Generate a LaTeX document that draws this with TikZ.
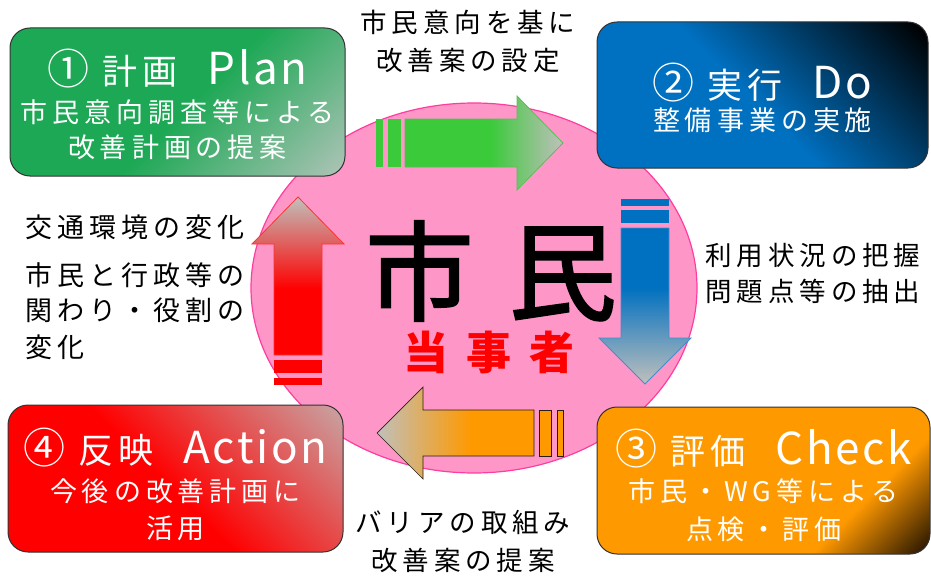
\documentclass[tikz,border=0pt]{standalone}
\usepackage{fontspec}
\setmainfont{Noto Sans CJK JP}
\newfontfamily\jpT[LetterSpace=15]{Noto Sans CJK JP}
\newfontfamily\jpS[LetterSpace=18.5]{Noto Sans CJK JP}
\newfontfamily\jpL[LetterSpace=6]{Noto Sans CJK JP}
\newfontfamily\jpM[FakeBold=2]{Noto Sans CJK JP}
\usetikzlibrary{shapes.geometric}

\definecolor{gA}{RGB}{28,168,84}
\definecolor{gB}{RGB}{178,196,186}
\definecolor{bA}{RGB}{0,112,192}
\definecolor{bB}{RGB}{0,0,0}
\definecolor{oA}{RGB}{255,153,0}
\definecolor{oB}{RGB}{20,10,0}
\definecolor{rA}{RGB}{255,0,0}
\definecolor{rB}{RGB}{196,176,176}
\definecolor{tipgrey}{RGB}{192,192,188}
\definecolor{arG}{RGB}{58,202,58}
\definecolor{arB}{RGB}{0,112,192}
\definecolor{arR}{RGB}{255,0,0}
\definecolor{arO}{RGB}{255,153,0}
\definecolor{pinkfill}{RGB}{255,150,200}
\definecolor{pinkline}{RGB}{255,60,160}
\definecolor{boxline}{RGB}{50,50,50}

\pgfdeclarehorizontalshading{greenbox}{100bp}{color(0bp)=(gA); color(52bp)=(gA); color(86bp)=(gB); color(100bp)=(gB)}
\pgfdeclarehorizontalshading{bluebox}{100bp}{color(0bp)=(bA); color(48bp)=(bA); color(84bp)=(bB); color(100bp)=(bB)}
\pgfdeclarehorizontalshading{orangebox}{100bp}{color(0bp)=(oA); color(68bp)=(oA); color(86bp)=(oB); color(100bp)=(oB)}
\pgfdeclarehorizontalshading{redbox}{100bp}{color(0bp)=(rA); color(48bp)=(rA); color(88bp)=(rB); color(100bp)=(rB)}

\pgfdeclarehorizontalshading{garrow}{100bp}{color(0bp)=(arG); color(52bp)=(arG); color(75bp)=(tipgrey); color(100bp)=(tipgrey)}
\pgfdeclarehorizontalshading{oarrow}{100bp}{color(0bp)=(tipgrey); color(25bp)=(tipgrey); color(55bp)=(arO); color(100bp)=(arO)}
\pgfdeclareverticalshading{barrow}{100bp}{color(0bp)=(tipgrey); color(25bp)=(tipgrey); color(56bp)=(arB); color(100bp)=(arB)}
\pgfdeclareverticalshading{rarrow}{100bp}{color(0bp)=(arR); color(46bp)=(arR); color(75bp)=(tipgrey); color(100bp)=(tipgrey)}

\newcommand\mkttl[3]{{\fontsize{42}{44}\selectfont #1}\hspace{13pt}#2\hspace{30pt}{\jpL\fontsize{44}{44}\selectfont #3}}

\tikzset{
  box/.style={shade, rounded corners=20pt, draw=boxline, line width=1pt, inner sep=0pt},
  ttl/.style={inner sep=0pt, text=white, font=\jpT\fontsize{35}{40}\selectfont},
  sub/.style={inner sep=0pt, text=white, font=\jpS\fontsize{27}{30}\selectfont},
  lab/.style={inner sep=0pt, text=black, font=\jpS\fontsize{26.5}{30}\selectfont},
  llab/.style={inner sep=0pt, text=black, anchor=west, font=\jpS\fontsize{27}{30}\selectfont},
}

\begin{document}
\begin{tikzpicture}[x=1pt,y=-1pt]
\useasboundingbox (0,0) rectangle (931,578);
\fill[white] (0,0) rectangle (931,578);

% central circle
\path[fill=pinkfill, draw=pinkline, line width=1.2pt] (474,288) ellipse [x radius=223pt, y radius=185pt];

% boxes
\node[box, shading=greenbox, shading angle=-45, minimum width=335pt, minimum height=148pt] (plan) at (177.5,102) {};
\node[box, shading=bluebox, shading angle=45, minimum width=331pt, minimum height=146pt] (do) at (762.5,95) {};
\node[box, shading=orangebox, shading angle=-45, minimum width=333pt, minimum height=147pt] (check) at (763.5,480.5) {};
\node[box, shading=redbox, shading angle=45, minimum width=335pt, minimum height=147pt] (action) at (175.5,478.5) {};

% green arrow (right)
\shade[shading=garrow, draw={rgb,255:red,90;green,190;blue,90}, line width=0.8pt]
  (405,119) -- (517,119) -- (517,96) -- (563,143) -- (517,190) -- (517,167) -- (405,167) -- cycle;
\fill[arG] (376,119) rectangle (383,167);
\fill[arG] (388,119) rectangle (401,167);

% blue arrow (down)
\shade[shading=barrow, draw={rgb,255:red,70;green,140;blue,205}, line width=0.8pt]
  (621,228) -- (621,338) -- (599,338) -- (645,384) -- (691,338) -- (669,338) -- (669,228) -- cycle;
\fill[arB] (621,199) rectangle (669,206);
\fill[arB] (621,210) rectangle (669,223);

% orange arrow (left)
\shade[shading=oarrow, draw={rgb,255:red,40;green,30;blue,20}, line width=0.7pt]
  (534,410) -- (423,410) -- (423,387) -- (377,433) -- (423,479) -- (423,456) -- (534,456) -- cycle;
\filldraw[fill=arO, draw={rgb,255:red,40;green,30;blue,20}, line width=0.7pt] (539,410) rectangle (551,456);
\filldraw[fill=arO, draw={rgb,255:red,40;green,30;blue,20}, line width=0.7pt] (557,410) rectangle (563,456);

% red arrow (up)
\shade[shading=rarrow, draw={rgb,255:red,255;green,50;blue,50}, line width=0.8pt]
  (274,355) -- (274,244) -- (252,244) -- (298,197) -- (344,244) -- (322,244) -- (322,355) -- cycle;
\fill[arR] (274,360) rectangle (322,373);
\fill[arR] (274,378) rectangle (322,385);

% center text
\node[inner sep=0pt, font=\jpM\fontsize{108}{110}\selectfont] (shimin) at (491,271) {市\hspace{35pt}民};
\node[inner sep=0pt, text=red, font=\bfseries\fontsize{45}{48}\selectfont] (toujisha) at (489,352) {当\hspace{18pt}事\hspace{18pt}者};

% box texts
\node[ttl] (planT) at (177.5,69) {\mkttl{①}{計画}{Plan}};
\node[sub] (planA) at (177.5,112) {市民意向調査等による};
\node[sub] (planB) at (177.5,147) {改善計画の提案};

\node[ttl] (doT) at (762.5,83) {\mkttl{②}{実行}{Do}};
\node[sub] (doA) at (762.5,120) {整備事業の実施};

\node[ttl] (checkT) at (763.5,449) {\mkttl{③}{評価}{Check}};
\node[sub] (checkA) at (763.5,491) {市民・WG等による};
\node[sub] (checkB) at (763.5,529) {点検・評価};

\node[ttl] (actionT) at (175.5,448) {\mkttl{④}{反映}{Action}};
\node[sub] (actionA) at (175.5,491) {今後の改善計画に};
\node[sub] (actionB) at (175.5,528) {活用};

% outside labels
\node[lab] (topA) at (468,22) {市民意向を基に};
\node[lab] (topB) at (468,60) {改善案の設定};

\node[lab] (rightA) at (813,255) {利用状況の把握};
\node[lab] (rightB) at (813,291) {問題点等の抽出};

\node[lab] (botA) at (463,522) {バリアの取組み};
\node[lab] (botB) at (463,560) {改善案の提案};

\node[llab] (leftA) at (25,227) {交通環境の変化};
\node[llab] (leftB) at (25,275) {市民と行政等の};
\node[llab] (leftC) at (25,310) {関わり・役割の};
\node[llab] (leftD) at (25,347) {変化};
\end{tikzpicture}
\end{document}
